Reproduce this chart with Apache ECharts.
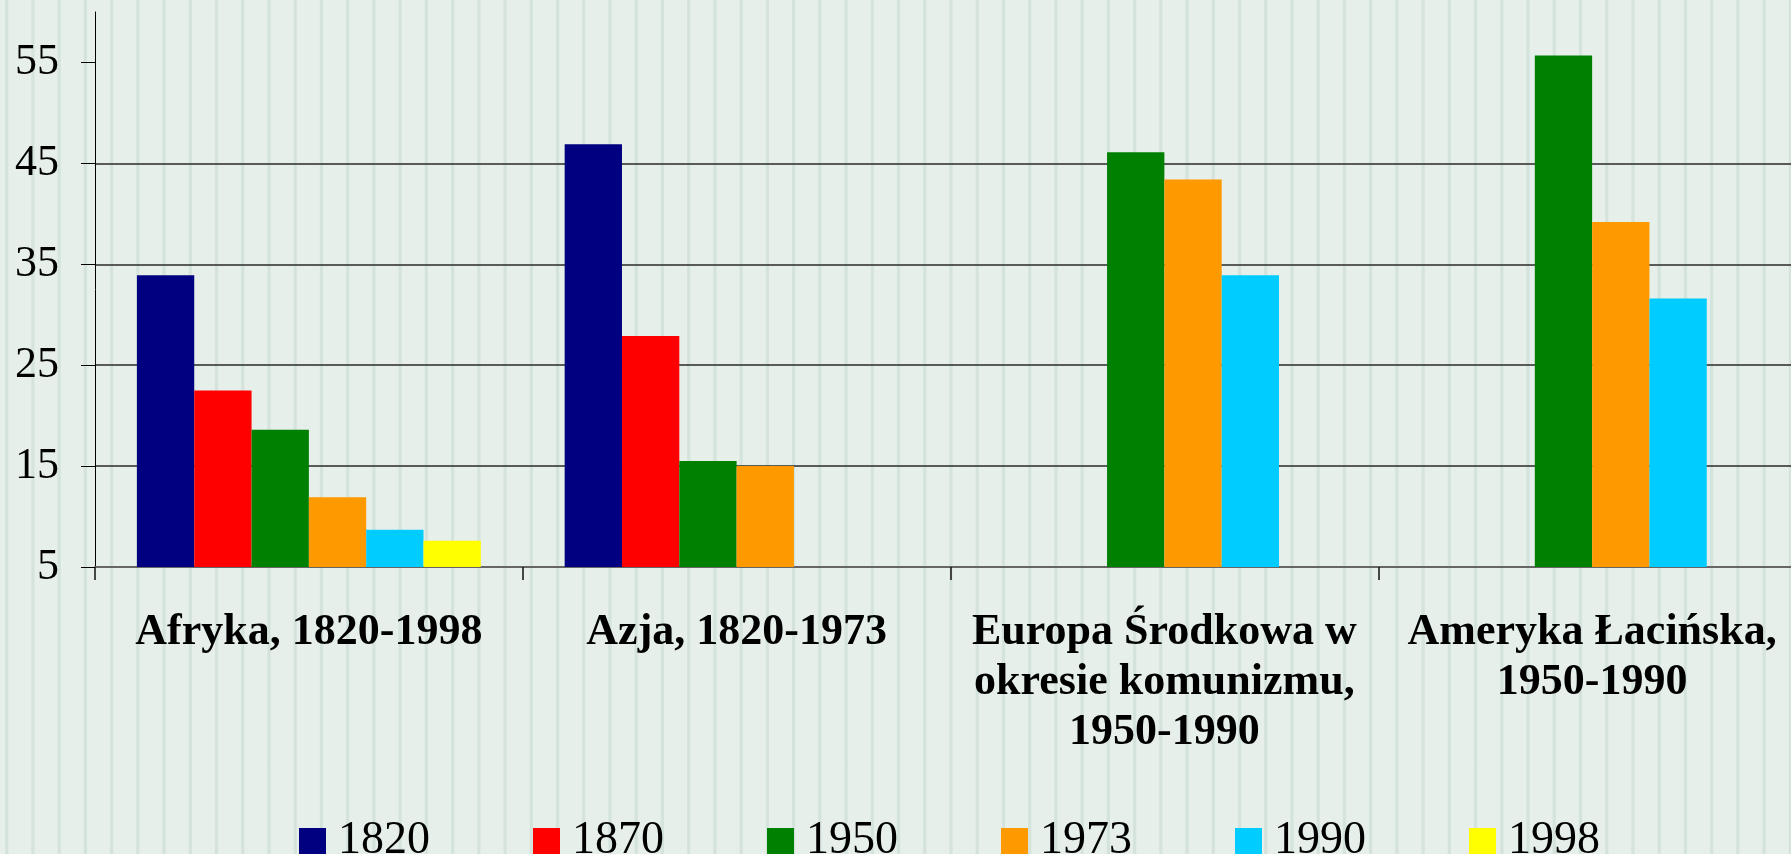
<!DOCTYPE html>
<html>
<head>
    <meta charset="utf-8">
    <title>Wykres</title>
    <script src="https://cdn.jsdelivr.net/npm/echarts@6.0.0/dist/echarts.min.js"></script>
    <style>
        body { margin: 0; }
        #main {
            width: 1791px; height: 854px;
            background-color: #e6efe9;
            background-image: repeating-linear-gradient(to right,
                #e6efe9 0px, #e6efe9 4.6px, #d4e3dc 5.6px, #d4e3dc 7.8px, #e6efe9 8.8px, #e6efe9 26.23px);
        }
    </style>
</head>
<body>
<div id="main"></div>
<script>
    // kategorie i lata
    var categories = ['Afryka, 1820-1998', 'Azja, 1820-1973',
        'Europa Środkowa w\nokresie komunizmu,\n1950-1990', 'Ameryka Łacińska,\n1950-1990'];
    var years = ['1820', '1870', '1950', '1973', '1990', '1998'];
    var yTicks = [5, 15, 25, 35, 45, 55];

    // wartości dla poszczególnych lat
    var v1820 = [33.9, 46.9, null, null];
    var v1870 = [22.5, 27.9, null, null];
    var v1950 = [18.6, 15.5, 46.1, 55.7];
    var v1973 = [11.9, 15.0, 43.4, 39.2];
    var v1990 = [8.7, null, 33.9, 31.6];
    var v1998 = [7.6, null, null, null];

    var values = [v1820, v1870, v1950, v1973, v1990, v1998];
    var colors = ['#000080', '#ff0000', '#008000', '#ff9900', '#00ccff', '#ffff00'];
    var serif = '"Liberation Serif", "Times New Roman", serif';

    var series = [];
    for (var i = 0; i < years.length; i++) {
        series.push({
            name: years[i],
            type: 'bar',
            data: values[i],
            barGap: '0%',
            barCategoryGap: '19.6%',
            itemStyle: { color: colors[i] }
        });
    }

    var myChart = echarts.init(document.getElementById('main'));
    var option = {
        backgroundColor: 'transparent',
        animation: false,
        color: colors,
        grid: { left: 95, top: 12, width: 1711, bottom: 287, outerBoundsMode: 'none' },
        legend: {
            data: years,
            left: 294,
            top: 813,
            icon: 'rect',
            itemWidth: 27,
            itemHeight: 26,
            itemGap: 103,
            textStyle: {
                fontFamily: serif, fontSize: 46, color: '#000',
                padding: [0, 0, 0, 7]
            }
        },
        xAxis: {
            type: 'category',
            data: categories,
            axisLine: { lineStyle: { color: '#666', width: 2 } },
            axisTick: { show: true, length: 13, lineStyle: { color: '#111', width: 1.5 } },
            axisLabel: {
                interval: 0,
                margin: 41,
                fontFamily: serif,
                fontWeight: 'bold',
                fontSize: 44,
                lineHeight: 50,
                color: '#000'
            }
        },
        yAxis: {
            type: 'value',
            min: 5,
            max: 60,
            interval: 10,
            axisLine: { show: true, lineStyle: { color: '#000', width: 1 } },
            axisTick: { show: true, length: 14, customValues: yTicks, lineStyle: { color: '#000' } },
            axisLabel: {
                customValues: yTicks,
                margin: 36,
                fontFamily: serif,
                fontSize: 44,
                color: '#000'
            },
            splitLine: { showMaxLine: false, lineStyle: { color: '#2a2a2a', width: 1.5 } }
        },
        series: series
    };
    myChart.setOption(option);
</script>
</body>
</html>
